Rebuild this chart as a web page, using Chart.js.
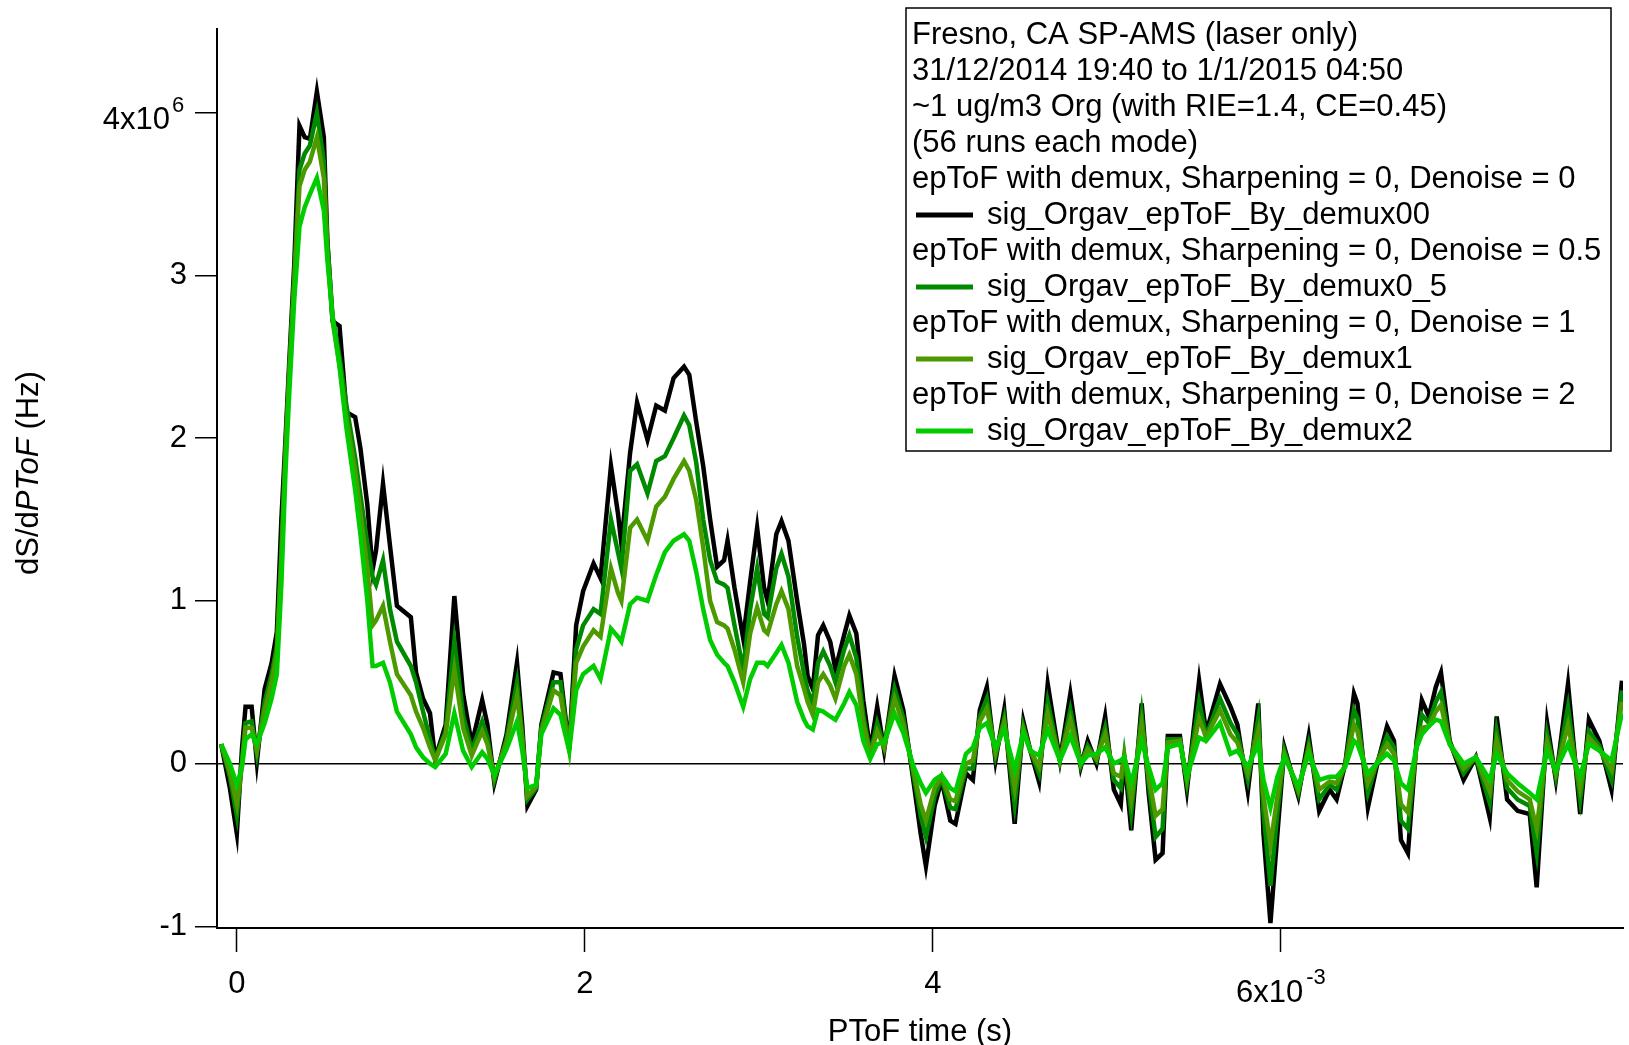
<!DOCTYPE html>
<html>
<head>
<meta charset="utf-8">
<script src="https://cdn.jsdelivr.net/npm/chart.js@4"></script>
<style>
html,body{margin:0;padding:0;background:#fff;}
canvas{display:block;}
</style>
</head>
<body>
<canvas id="c" width="1629" height="1045"></canvas>
<script>
// PToF time in units of 1e-3 s
const ptofTime = [-0.09,-0.04,0.0,0.03,0.05,0.085,0.115,0.16,0.20,0.23,0.256,0.28,0.30,0.33,0.36,0.39,0.42,0.46,0.50,0.52,0.55,0.59,0.63,0.68,0.71,0.75,0.78,0.80,0.84,0.88,0.92,1.00,1.03,1.07,1.11,1.14,1.20,1.25,1.30,1.35,1.41,1.44,1.48,1.55,1.61,1.64,1.67,1.72,1.75,1.82,1.86,1.91,1.95,1.99,2.05,2.09,2.15,2.19,2.21,2.26,2.30,2.36,2.41,2.46,2.51,2.57,2.60,2.64,2.68,2.72,2.76,2.80,2.82,2.86,2.91,2.95,2.99,3.03,3.05,3.10,3.13,3.17,3.22,3.26,3.28,3.31,3.34,3.37,3.41,3.44,3.49,3.52,3.56,3.60,3.64,3.68,3.72,3.78,3.83,3.89,3.93,3.96,4.01,4.05,4.10,4.13,4.19,4.23,4.27,4.31,4.36,4.41,4.47,4.52,4.56,4.61,4.66,4.73,4.79,4.85,4.89,4.94,4.99,5.04,5.08,5.10,5.14,5.20,5.24,5.28,5.32,5.35,5.42,5.46,5.53,5.57,5.65,5.71,5.75,5.81,5.87,5.90,5.94,5.98,6.02,6.10,6.16,6.22,6.28,6.32,6.37,6.42,6.44,6.50,6.55,6.61,6.65,6.69,6.73,6.78,6.81,6.85,6.89,6.92,6.97,7.05,7.12,7.20,7.24,7.30,7.36,7.43,7.47,7.53,7.58,7.65,7.72,7.77,7.83,7.90,7.96];

// dS/dPToF in units of 1e6 Hz
const sigDemux00 = [0.12,-0.15,-0.43,0.10,0.35,0.35,0.01,0.46,0.62,0.81,1.50,2.00,2.44,3.07,3.92,3.85,3.84,4.13,3.85,3.22,2.72,2.69,2.16,2.13,1.94,1.59,1.19,1.31,1.72,1.34,0.97,0.90,0.56,0.40,0.31,0.03,0.24,1.03,0.43,0.12,0.39,0.24,-0.12,0.18,0.62,0.24,-0.26,-0.16,0.24,0.56,0.55,0.09,0.85,1.06,1.23,1.14,1.83,1.54,1.35,1.91,2.22,1.99,2.20,2.17,2.37,2.44,2.39,2.10,1.83,1.50,1.21,1.25,1.37,1.08,0.77,1.12,1.45,1.08,1.00,1.41,1.49,1.37,1.00,0.73,0.54,0.46,0.79,0.85,0.75,0.58,0.79,0.91,0.80,0.39,0.08,0.35,0.08,0.54,0.33,-0.12,-0.43,-0.63,-0.26,-0.10,-0.35,-0.37,-0.06,-0.10,0.33,0.47,0.02,0.33,-0.37,0.26,0.08,-0.11,0.49,0.02,0.43,-0.02,0.14,0.00,0.29,-0.16,-0.25,0.04,-0.41,0.37,-0.18,-0.59,-0.55,0.17,0.17,-0.16,0.51,0.19,0.49,0.35,0.24,-0.17,0.37,-0.43,-0.98,-0.43,0.10,-0.20,0.17,-0.29,-0.16,-0.22,0.00,0.43,0.37,-0.27,-0.02,0.23,0.14,-0.47,-0.55,0.14,0.39,0.29,0.47,0.56,0.14,-0.10,0.04,-0.33,0.29,-0.22,-0.29,-0.31,-0.76,0.25,-0.10,0.49,-0.31,0.27,0.14,-0.16,0.51];

const sigDemux0_5 = [0.12,-0.08,-0.32,0.02,0.25,0.26,0.06,0.38,0.55,0.72,1.30,1.95,2.40,3.00,3.65,3.75,3.80,4.00,3.70,3.20,2.75,2.50,2.20,1.88,1.65,1.35,1.15,1.10,1.25,0.95,0.75,0.60,0.50,0.32,0.15,0.03,0.20,0.75,0.30,0.08,0.26,0.16,-0.10,0.15,0.50,0.18,-0.22,-0.15,0.22,0.50,0.50,0.09,0.70,0.85,0.95,0.92,1.50,1.30,1.20,1.80,1.84,1.66,1.86,1.89,2.00,2.14,2.08,1.85,1.50,1.25,1.12,1.10,1.08,0.85,0.58,0.95,1.20,0.92,0.90,1.20,1.29,1.15,0.78,0.55,0.45,0.37,0.62,0.69,0.60,0.50,0.70,0.79,0.65,0.30,0.06,0.25,0.10,0.46,0.28,-0.08,-0.32,-0.45,-0.20,-0.09,-0.27,-0.28,-0.03,-0.03,0.29,0.40,0.05,0.28,-0.25,0.23,0.08,-0.06,0.38,0.02,0.33,-0.01,0.11,0.02,0.22,-0.10,-0.15,0.05,-0.30,0.30,-0.12,-0.45,-0.40,0.15,0.15,-0.12,0.38,0.17,0.40,0.25,0.18,-0.10,0.28,-0.30,-0.75,-0.30,0.08,-0.18,0.12,-0.22,-0.13,-0.16,0.00,0.33,0.28,-0.18,0.00,0.17,0.10,-0.35,-0.40,0.12,0.30,0.25,0.38,0.44,0.13,-0.06,0.04,-0.24,0.20,-0.15,-0.22,-0.26,-0.55,0.18,-0.08,0.35,-0.22,0.20,0.11,-0.10,0.45];

const sigDemux1 = [0.12,-0.05,-0.25,0.00,0.22,0.22,0.08,0.33,0.50,0.68,1.25,1.90,2.35,2.95,3.55,3.65,3.70,3.85,3.60,3.15,2.72,2.45,2.12,1.80,1.55,1.20,0.85,0.88,0.97,0.75,0.55,0.42,0.32,0.22,0.10,0.02,0.18,0.58,0.22,0.05,0.20,0.12,-0.08,0.13,0.42,0.15,-0.20,-0.14,0.20,0.45,0.42,0.09,0.62,0.72,0.82,0.78,1.20,1.05,1.00,1.45,1.50,1.37,1.58,1.64,1.75,1.86,1.80,1.62,1.33,1.00,0.87,0.85,0.83,0.70,0.50,0.80,0.96,0.82,0.80,0.98,1.06,0.95,0.60,0.46,0.38,0.30,0.50,0.55,0.48,0.40,0.60,0.67,0.55,0.25,0.05,0.20,0.10,0.40,0.24,-0.05,-0.25,-0.35,-0.15,-0.08,-0.22,-0.23,0.00,0.02,0.26,0.34,0.07,0.25,-0.15,0.21,0.08,-0.02,0.31,0.02,0.27,0.00,0.09,0.03,0.18,-0.06,-0.08,0.05,-0.22,0.24,-0.08,-0.32,-0.28,0.13,0.14,-0.10,0.28,0.16,0.33,0.18,0.13,-0.06,0.20,-0.20,-0.50,-0.20,0.06,-0.16,0.09,-0.16,-0.11,-0.12,-0.01,0.24,0.20,-0.12,0.00,0.12,0.06,-0.25,-0.30,0.11,0.22,0.23,0.32,0.36,0.12,-0.03,0.04,-0.17,0.14,-0.10,-0.17,-0.22,-0.40,0.13,-0.06,0.24,-0.15,0.16,0.09,-0.04,0.38];

const sigDemux2 = [0.12,0.00,-0.13,-0.02,0.15,0.18,0.12,0.25,0.40,0.55,1.10,1.80,2.25,2.85,3.30,3.42,3.50,3.60,3.40,3.10,2.75,2.44,2.06,1.68,1.41,1.00,0.60,0.60,0.62,0.50,0.32,0.18,0.10,0.04,0.00,-0.02,0.06,0.31,0.08,-0.02,0.07,0.03,-0.07,0.09,0.26,0.08,-0.15,-0.13,0.18,0.34,0.30,0.08,0.45,0.55,0.60,0.52,0.83,0.78,0.75,0.98,1.02,1.00,1.16,1.30,1.37,1.41,1.37,1.18,0.95,0.76,0.67,0.62,0.60,0.50,0.35,0.52,0.62,0.62,0.60,0.68,0.73,0.62,0.38,0.27,0.23,0.21,0.33,0.32,0.29,0.27,0.37,0.44,0.36,0.14,0.03,0.12,0.13,0.31,0.19,-0.02,-0.12,-0.18,-0.10,-0.07,-0.15,-0.17,0.06,0.10,0.22,0.25,0.10,0.21,-0.04,0.19,0.08,0.05,0.21,0.02,0.17,0.00,0.05,0.06,0.10,0.00,0.02,0.04,-0.12,0.14,-0.02,-0.16,-0.12,0.10,0.12,-0.08,0.16,0.14,0.25,0.06,0.08,-0.02,0.12,-0.10,-0.27,-0.08,0.04,-0.14,0.06,-0.10,-0.08,-0.08,-0.02,0.14,0.12,-0.06,0.00,0.06,0.02,-0.12,-0.16,0.10,0.18,0.23,0.27,0.26,0.12,0.00,0.04,-0.10,0.06,-0.06,-0.12,-0.18,-0.22,0.08,-0.04,0.12,-0.08,0.12,0.08,0.02,0.31];

const seriesNames = ['sig_Orgav_epToF_By_demux00','sig_Orgav_epToF_By_demux0_5','sig_Orgav_epToF_By_demux1','sig_Orgav_epToF_By_demux2'];
const seriesHeaders = ['epToF with demux, Sharpening = 0, Denoise = 0','epToF with demux, Sharpening = 0, Denoise = 0.5','epToF with demux, Sharpening = 0, Denoise = 1','epToF with demux, Sharpening = 0, Denoise = 2'];
const legendTitleLines = ['Fresno, CA SP-AMS (laser only)','31/12/2014 19:40 to 1/1/2015 04:50','~1 ug/m3 Org (with RIE=1.4, CE=0.45)','(56 runs each mode)'];
const seriesColors = ['#000000','#008a00','#4c9a00','#00cc00'];
const xTicks = [0,2,4,6];
const yTicks = [-1,0,1,2,3,4];
const xTickLabels = ['0','2','4','6x10'];
const yTickLabels = ['-1','0','1','2','3','4x10'];
// exponent shown on the last labelled tick of each axis
const xExponent = '-3';
const yExponent = '6';

const FONT = '"Liberation Sans", Arial, sans-serif';
const allSeries = [sigDemux00, sigDemux0_5, sigDemux1, sigDemux2];

const datasets = allSeries.map((vals, i) => ({
  label: seriesNames[i],
  data: ptofTime.map((x, j) => ({x: x, y: vals[j]})),
  borderColor: seriesColors[i],
  backgroundColor: seriesColors[i],
  borderWidth: 4.5,
  pointRadius: 0,
  tension: 0,
  fill: false,
  order: allSeries.length - i
}));

const legendPlugin = {
  id: 'boxLegend',
  afterDraw(chart) {
    const ctx = chart.ctx;
    ctx.save();
    const bx = 906, by = 8, bw = 705, bh = 443;
    ctx.fillStyle = '#fff';
    ctx.fillRect(bx, by, bw, bh);
    ctx.strokeStyle = '#000';
    ctx.lineWidth = 1.5;
    ctx.strokeRect(bx, by, bw, bh);
    ctx.font = '31px ' + FONT;
    ctx.fillStyle = '#000';
    ctx.textBaseline = 'middle';
    ctx.textAlign = 'left';
    const lineH = 36.0;
    let y = 35;
    legendTitleLines.forEach(t => { ctx.fillText(t, 912, y); y += lineH; });
    seriesNames.forEach((n, i) => {
      ctx.fillStyle = '#000';
      ctx.fillText(seriesHeaders[i], 912, y); y += lineH;
      ctx.strokeStyle = seriesColors[i];
      ctx.lineWidth = 5;
      ctx.beginPath(); ctx.moveTo(916, y); ctx.lineTo(973, y); ctx.stroke();
      ctx.fillStyle = '#000';
      ctx.fillText(n, 987, y); y += lineH;
    });
    ctx.restore();
  }
};

// axis titles with mixed styles and exponent tick labels
const textPlugin = {
  id: 'axisText',
  afterDraw(chart) {
    const ctx = chart.ctx;
    ctx.save();
    ctx.fillStyle = '#000';
    ctx.textBaseline = 'middle';
    // y title
    const parts = [['dS/d', false], ['PToF', true], [' (Hz)', false]];
    ctx.save();
    ctx.translate(29, 473);
    ctx.rotate(-Math.PI / 2);
    let total = 0;
    parts.forEach(p => { ctx.font = (p[1] ? 'italic ' : '') + '31px ' + FONT; total += ctx.measureText(p[0]).width; });
    let x = -total / 2;
    ctx.textAlign = 'left';
    parts.forEach(p => {
      ctx.font = (p[1] ? 'italic ' : '') + '31px ' + FONT;
      ctx.fillText(p[0], x, 0);
      x += ctx.measureText(p[0]).width;
    });
    ctx.restore();

    // y axis exponent label at top tick
    const ys = chart.scales.y;
    const yv = yTicks[yTicks.length - 1];
    const py = ys.getPixelForValue(yv);
    ctx.font = '31px ' + FONT;
    ctx.textAlign = 'right';
    const baseRight = ys.right - 47;
    ctx.fillText(yTickLabels[yTickLabels.length - 1], baseRight, py + 7.5);
    ctx.font = '22px ' + FONT;
    ctx.textAlign = 'left';
    ctx.fillText(yExponent, baseRight + 2, py - 7);

    // x axis exponent label at last tick
    const xs = chart.scales.x;
    const xv = xTicks[xTicks.length - 1];
    const px = xs.getPixelForValue(xv);
    ctx.font = '31px ' + FONT;
    const w1 = ctx.measureText(xTickLabels[xTickLabels.length - 1]).width;
    ctx.font = '22px ' + FONT;
    const w2 = ctx.measureText(xExponent).width;
    const start = px - (w1 + 3 + w2) / 2;
    ctx.textAlign = 'left';
    ctx.font = '31px ' + FONT;
    ctx.fillText(xTickLabels[xTickLabels.length - 1], start, xs.top + 65);
    ctx.font = '22px ' + FONT;
    ctx.fillText(xExponent, start + w1 + 3, xs.top + 50);
    ctx.restore();
  }
};

new Chart(document.getElementById('c'), {
  type: 'line',
  data: { datasets: datasets },
  plugins: [legendPlugin, textPlugin],
  options: {
    responsive: false,
    devicePixelRatio: 1,
    animation: false,
    layout: { padding: { top: 29, right: 6, left: 0, bottom: 0 } },
    plugins: { legend: { display: false }, tooltip: { enabled: false } },
    scales: {
      x: {
        type: 'linear',
        min: -0.114,
        max: 7.966,
        afterFit(s) { s.height = 117; },
        afterBuildTicks(s) { s.ticks = xTicks.map(v => ({value: v})); },
        ticks: {
          color: '#000',
          font: { family: FONT, size: 31 },
          padding: 14,
          maxRotation: 0,
          autoSkip: false,
          callback(v) { const i = xTicks.indexOf(v); return (i >= 0 && i < xTicks.length - 1) ? xTickLabels[i] : ''; }
        },
        grid: { drawOnChartArea: false, drawTicks: true, tickLength: 24, tickColor: '#000', tickWidth: 1.5, color: '#000' },
        border: { display: true, color: '#000', width: 2 },
        title: {
          display: true,
          text: 'PToF time (s)',
          color: '#000',
          font: { family: FONT, size: 31, lineHeight: 0.8 },
          padding: { top: 0, bottom: 0.5 }
        }
      },
      y: {
        type: 'linear',
        min: -1.010,
        max: 4.515,
        afterFit(s) { s.width = 217; },
        afterBuildTicks(s) { s.ticks = yTicks.map(v => ({value: v})); },
        ticks: {
          color: '#000',
          font: { family: FONT, size: 31 },
          padding: 8,
          autoSkip: false,
          callback(v) { const i = yTicks.indexOf(v); return (i >= 0 && i < yTicks.length - 1) ? yTickLabels[i] : ''; }
        },
        grid: {
          drawOnChartArea: true,
          drawTicks: true,
          tickLength: 22,
          tickColor: '#000',
          tickWidth: 1.5,
          lineWidth: 1.5,
          color(ctx) { return ctx.tick && ctx.tick.value === 0 ? '#000' : 'rgba(0,0,0,0)'; }
        },
        border: { display: true, color: '#000', width: 2 }
      }
    }
  }
});
</script>
</body>
</html>
